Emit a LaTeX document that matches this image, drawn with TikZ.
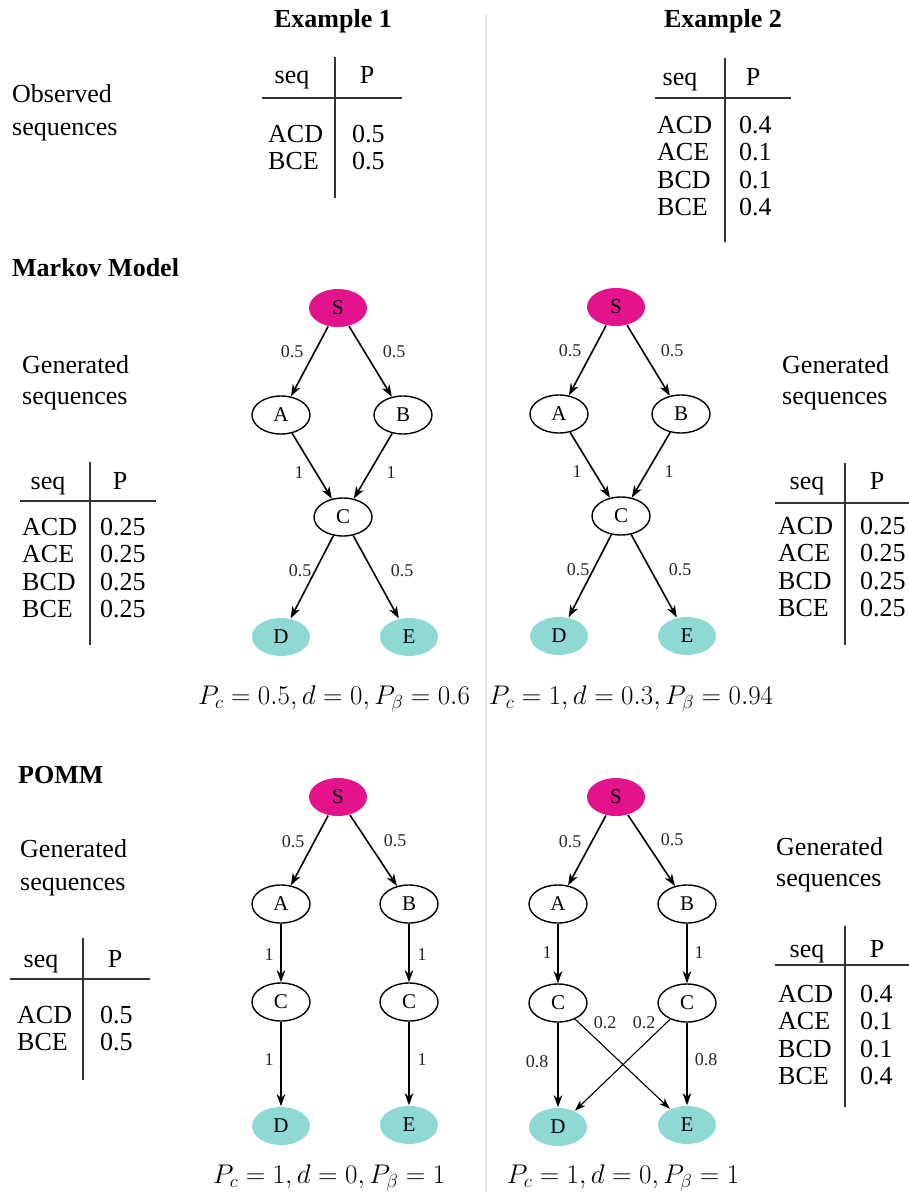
\RequirePackage{fix-cm}
\documentclass[tikz,border=0pt]{standalone}
\usepackage{fontspec}
\setmainfont{Liberation Serif}
\usetikzlibrary{shapes.geometric,arrows.meta}

\definecolor{startpink}{HTML}{E3138C}
\definecolor{endteal}{HTML}{8ED9D4}
\definecolor{divgray}{HTML}{E6E6E6}

\tikzset{
  txt/.style={font=\fontsize{26}{30}\selectfont, inner sep=0pt},
  lefttxt/.style={txt, anchor=base west},
  midtxt/.style={txt, anchor=base},
  heading/.style={font=\fontsize{26}{30}\selectfont\bfseries, inner sep=0pt, anchor=base},
  section/.style={font=\fontsize{26}{30}\selectfont\bfseries, inner sep=0pt, anchor=base west},
  formula/.style={font=\fontsize{27}{30}\selectfont, inner sep=0pt, anchor=base},
  rule/.style={line width=1.1pt, black!80},
  state/.style={ellipse, draw, line width=1.4pt, minimum width=58pt, minimum height=38pt,
                inner sep=0pt, font=\fontsize{21}{24}\selectfont},
  startst/.style={state, draw=none, fill=startpink},
  endst/.style={state, draw=none, fill=endteal},
  arr/.style={-{Stealth[length=12pt,width=8.5pt,inset=3.5pt]}, line width=1.6pt},
  arrthin/.style={-{Stealth[length=11pt,width=7.5pt,inset=3pt]}, line width=1.1pt},
  lbl/.style={font=\fontsize{18}{20}\selectfont, text=black!85, inner sep=0pt}
}

\begin{document}
\begin{tikzpicture}[x=1pt, y=-1pt]
\useasboundingbox (0,0) rectangle (909,1192);

% column divider
\draw[divgray, line width=1.6pt] (486,15) -- (486,1192);

% column headings
\node[heading] (h1) at (333,27) {Example 1};
\node[heading] (h2) at (723,27) {Example 2};

% observed sequences
\node[lefttxt] (obs1) at (12,102) {Observed};
\node[lefttxt] (obs2) at (12,135) {sequences};

% observed table, example 1
\draw[rule] (335,57) -- (335,198);
\draw[rule] (262,98) -- (402,98);
\node[midtxt] (o1seq) at (292,83) {seq};
\node[midtxt] (o1p) at (367,83) {P};
\node[lefttxt] (o1r1) at (268,142) {ACD};
\node[lefttxt] (o1v1) at (352,142) {0.5};
\node[lefttxt] (o1r2) at (268,169) {BCE};
\node[lefttxt] (o1v2) at (352,169) {0.5};

% observed table, example 2
\draw[rule] (725,58) -- (725,242);
\draw[rule] (655,98) -- (791,98);
\node[midtxt] (o2seq) at (680,85) {seq};
\node[midtxt] (o2p) at (753,85) {P};
\node[lefttxt] (o2r1) at (657,133) {ACD};
\node[lefttxt] (o2v1) at (739,133) {0.4};
\node[lefttxt] (o2r2) at (657,160.5) {ACE};
\node[lefttxt] (o2v2) at (739,160.5) {0.1};
\node[lefttxt] (o2r3) at (657,188) {BCD};
\node[lefttxt] (o2v3) at (739,188) {0.1};
\node[lefttxt] (o2r4) at (657,215.5) {BCE};
\node[lefttxt] (o2v4) at (739,215.5) {0.4};

% ---------------- Markov model ----------------
\node[section] (mm) at (12,276) {Markov Model};

% generated sequences, example 1
\node[lefttxt] (mg1a) at (22,373) {Generated};
\node[lefttxt] (mg1b) at (22,404) {sequences};
\draw[rule] (90,462) -- (90,645);
\draw[rule] (20,501) -- (156,501);
\node[midtxt] (m1seq) at (48,489) {seq};
\node[midtxt] (m1p) at (120,489) {P};
\node[lefttxt] (m1r1) at (22,535) {ACD};
\node[lefttxt] (m1v1) at (100,535) {0.25};
\node[lefttxt] (m1r2) at (22,562.5) {ACE};
\node[lefttxt] (m1v2) at (100,562.5) {0.25};
\node[lefttxt] (m1r3) at (22,590) {BCD};
\node[lefttxt] (m1v3) at (100,590) {0.25};
\node[lefttxt] (m1r4) at (22,617.5) {BCE};
\node[lefttxt] (m1v4) at (100,617.5) {0.25};

% generated sequences, example 2
\node[lefttxt] (mg2a) at (782,373) {Generated};
\node[lefttxt] (mg2b) at (782,404) {sequences};
\draw[rule] (845,463) -- (845,645);
\draw[rule] (775,503) -- (909,503);
\node[midtxt] (m2seq) at (807,489) {seq};
\node[midtxt] (m2p) at (877,489) {P};
\node[lefttxt] (m2r1) at (778,534) {ACD};
\node[lefttxt] (m2v1) at (860,534) {0.25};
\node[lefttxt] (m2r2) at (778,561.5) {ACE};
\node[lefttxt] (m2v2) at (860,561.5) {0.25};
\node[lefttxt] (m2r3) at (778,589) {BCD};
\node[lefttxt] (m2v3) at (860,589) {0.25};
\node[lefttxt] (m2r4) at (778,616.5) {BCE};
\node[lefttxt] (m2v4) at (860,616.5) {0.25};

% Markov graph, example 1
\node[startst] (mS1) at (338,308) {S};
\node[state]   (mA1) at (281,415) {A};
\node[state]   (mB1) at (403,415) {B};
\node[state]   (mC1) at (343,517) {C};
\node[endst]   (mD1) at (281,637) {D};
\node[endst]   (mE1) at (409,637) {E};
\draw[arr] (mS1) -- (mA1);
\draw[arr] (mS1) -- (mB1);
\draw[arr] (mA1) -- (mC1);
\draw[arr] (mB1) -- (mC1);
\draw[arr] (mC1) -- (mD1);
\draw[arr] (mC1) -- (mE1);
\node[lbl] (ml1a) at (292,352) {0.5};
\node[lbl] (ml1b) at (394,352) {0.5};
\node[lbl] (ml1c) at (299,473) {1};
\node[lbl] (ml1d) at (391,473) {1};
\node[lbl] (ml1e) at (300,571) {0.5};
\node[lbl] (ml1f) at (402,571) {0.5};
\node[formula] (mf1) at (334,704) {$P_c = 0.5, d = 0, P_\beta = 0.6$};

% Markov graph, example 2
\node[startst] (mS2) at (616,307) {S};
\node[state]   (mA2) at (559,414) {A};
\node[state]   (mB2) at (681,414) {B};
\node[state]   (mC2) at (621,516) {C};
\node[endst]   (mD2) at (559,636) {D};
\node[endst]   (mE2) at (687,636) {E};
\draw[arr] (mS2) -- (mA2);
\draw[arr] (mS2) -- (mB2);
\draw[arr] (mA2) -- (mC2);
\draw[arr] (mB2) -- (mC2);
\draw[arr] (mC2) -- (mD2);
\draw[arr] (mC2) -- (mE2);
\node[lbl] (ml2a) at (570,351) {0.5};
\node[lbl] (ml2b) at (672,351) {0.5};
\node[lbl] (ml2c) at (577,472) {1};
\node[lbl] (ml2d) at (669,472) {1};
\node[lbl] (ml2e) at (578,570) {0.5};
\node[lbl] (ml2f) at (680,570) {0.5};
\node[formula] (mf2) at (631,704) {$P_c = 1, d = 0.3, P_\beta = 0.94$};

% ---------------- POMM ----------------
\node[section] (pm) at (18,783) {POMM};

% generated sequences, example 1
\node[lefttxt] (pg1a) at (20,857) {Generated};
\node[lefttxt] (pg1b) at (20,890) {sequences};
\draw[rule] (83,938) -- (83,1080);
\draw[rule] (10,979) -- (150,979);
\node[midtxt] (p1seq) at (41,967) {seq};
\node[midtxt] (p1p) at (115,967) {P};
\node[lefttxt] (p1r1) at (17,1023) {ACD};
\node[lefttxt] (p1v1) at (100,1023) {0.5};
\node[lefttxt] (p1r2) at (17,1050) {BCE};
\node[lefttxt] (p1v2) at (100,1050) {0.5};

% generated sequences, example 2
\node[lefttxt] (pg2a) at (776,855) {Generated};
\node[lefttxt] (pg2b) at (776,886) {sequences};
\draw[rule] (845,926) -- (845,1107);
\draw[rule] (775,965) -- (909,965);
\node[midtxt] (p2seq) at (807,957) {seq};
\node[midtxt] (p2p) at (877,957) {P};
\node[lefttxt] (p2r1) at (778,1002) {ACD};
\node[lefttxt] (p2v1) at (860,1002) {0.4};
\node[lefttxt] (p2r2) at (778,1029.5) {ACE};
\node[lefttxt] (p2v2) at (860,1029.5) {0.1};
\node[lefttxt] (p2r3) at (778,1057) {BCD};
\node[lefttxt] (p2v3) at (860,1057) {0.1};
\node[lefttxt] (p2r4) at (778,1084.5) {BCE};
\node[lefttxt] (p2v4) at (860,1084.5) {0.4};

% POMM graph, example 1
\node[startst] (pS1) at (338,797) {S};
\node[state]   (pA1) at (281,904) {A};
\node[state]   (pB1) at (409,904) {B};
\node[state]   (pCa1) at (281,1002) {C};
\node[state]   (pCb1) at (409,1002) {C};
\node[endst]   (pD1) at (281,1126) {D};
\node[endst]   (pE1) at (409,1125) {E};
\draw[arr] (pS1) -- (pA1);
\draw[arr] (pS1) -- (pB1);
\draw[arr] (pA1) -- (pCa1);
\draw[arr] (pB1) -- (pCb1);
\draw[arr] (pCa1) -- (pD1);
\draw[arr] (pCb1) -- (pE1);
\node[lbl] (pl1a) at (293,842) {0.5};
\node[lbl] (pl1b) at (395,841) {0.5};
\node[lbl] (pl1c) at (269,955) {1};
\node[lbl] (pl1d) at (422,955) {1};
\node[lbl] (pl1e) at (269,1060) {1};
\node[lbl] (pl1f) at (422,1060) {1};
\node[formula] (pf1) at (329,1183) {$P_c = 1, d = 0, P_\beta = 1$};

% POMM graph, example 2
\node[startst] (pS2) at (616,797) {S};
\node[state]   (pA2) at (558,904) {A};
\node[state]   (pB2) at (687,904) {B};
\node[state]   (pCa2) at (558,1003) {C};
\node[state]   (pCb2) at (687,1003) {C};
\node[endst]   (pD2) at (558,1127) {D};
\node[endst]   (pE2) at (687,1125) {E};
\draw[arr] (pS2) -- (pA2);
\draw[arr] (pS2) -- (pB2);
\draw[arr] (pA2) -- (pCa2);
\draw[arr] (pB2) -- (pCb2);
\draw[arr] (pCa2) -- (pD2);
\draw[arr] (pCb2) -- (pE2);
\draw[arrthin] (pCa2) -- (pE2);
\draw[arrthin] (pCb2) -- (pD2);
\node[lbl] (pl2a) at (570,842) {0.5};
\node[lbl] (pl2b) at (672,840) {0.5};
\node[lbl] (pl2c) at (547,953) {1};
\node[lbl] (pl2d) at (699,953) {1};
\node[lbl] (pl2e) at (605,1023) {0.2};
\node[lbl] (pl2f) at (644,1023) {0.2};
\node[lbl] (pl2g) at (537,1062) {0.8};
\node[lbl] (pl2h) at (706,1060) {0.8};
\node[formula] (pf2) at (623,1183) {$P_c = 1, d = 0, P_\beta = 1$};
\end{tikzpicture}
\end{document}
